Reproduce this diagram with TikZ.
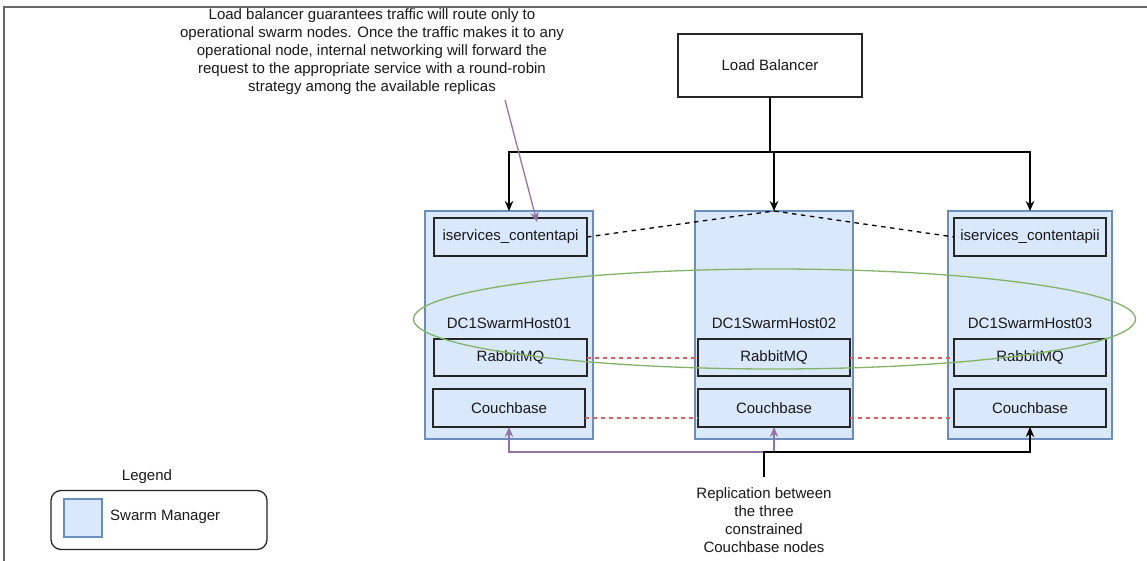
\documentclass[tikz,border=0pt]{standalone}
\usepackage{fontspec}
\setmainfont{Liberation Sans}
\usetikzlibrary{arrows.meta}
\definecolor{hostfill}{HTML}{DAE8FC}
\definecolor{hoststroke}{HTML}{6C8EBF}
\definecolor{pur}{HTML}{9673A6}
\definecolor{redd}{HTML}{D9605E}
\definecolor{grn}{HTML}{82B366}
\definecolor{framec}{HTML}{666666}
\definecolor{boxline}{HTML}{262626}
\begin{document}
\begin{tikzpicture}[x=1pt,y=-1pt,
  every node/.style={font=\fontsize{15}{18}\selectfont, text=black!90},
  hostbox/.style={draw=hoststroke, line width=1.2pt, fill=hostfill, inner sep=0pt, outer sep=0pt},
  svcbox/.style={draw=boxline, line width=1.4pt, fill=hostfill, inner sep=0pt, outer sep=0pt, minimum height=38},
  lbbox/.style={draw=boxline, line width=1.2pt, fill=white, inner sep=0pt, outer sep=0pt},
  arr/.style={-{Stealth[length=10pt,width=8.5pt]}},
  link/.style={line width=1.3pt, draw=black},
  plink/.style={line width=1.3pt, draw=pur},
  rdash/.style={draw=redd, line width=1.4pt, dash pattern=on 4pt off 4pt},
  kdash/.style={draw=black, line width=1.3pt, dash pattern=on 4.5pt off 4.5pt}]
\useasboundingbox (0,0) rectangle (1147,561);
% frame of the screenshot
\draw[framec, line width=1.3pt] (4,561) -- (4,7) -- (1147,7);

% hosts
\node[hostbox, minimum width=168, minimum height=228] (h1) at (509,325) {};
\node[hostbox, minimum width=158, minimum height=228] (h2) at (774,325) {};
\node[hostbox, minimum width=164, minimum height=228] (h3) at (1030,325) {};

\node (h1lab) at (509,323) {DC1SwarmHost01};
\node (h2lab) at (774,323) {DC1SwarmHost02};
\node (h3lab) at (1030,323) {DC1SwarmHost03};

% services
\node[svcbox, minimum width=153] (api1) at (510.5,237) {iservices\_contentapi};
\node[svcbox, minimum width=152] (api3) at (1030,237) {iservices\_contentapii};
\node[svcbox, minimum width=153, minimum height=37] (rmq1) at (510.5,357.5) {RabbitMQ};
\node[svcbox, minimum width=152, minimum height=37] (rmq2) at (774,357.5) {RabbitMQ};
\node[svcbox, minimum width=152, minimum height=37] (rmq3) at (1030,357.5) {RabbitMQ};
\node[svcbox, minimum width=152] (cb1) at (509,408) {Couchbase};
\node[svcbox, minimum width=152] (cb2) at (774,408) {Couchbase};
\node[svcbox, minimum width=152] (cb3) at (1030,408) {Couchbase};

% load balancer
\node[lbbox, minimum width=184, minimum height=63] (lb) at (770,65.5) {Load Balancer};
\coordinate (lbj) at (770,152);
\draw[link] (lb.south) -- (lbj);
\draw[link, arr] (lbj) -| (h1.north);
\draw[link, arr] (lbj) -| (h2.north);
\draw[link, arr] (lbj) -| (h3.north);

% dashed service links
\draw[kdash] (api1.east) -- (h2.north) -- (api3.west);
\draw[rdash] ([yshift=-0.5pt]rmq1.east) -- ([yshift=-0.5pt]rmq2.west);
\draw[rdash] ([yshift=-0.5pt]rmq2.east) -- ([yshift=-0.5pt]rmq3.west);
\draw[rdash] ([yshift=-10pt]cb1.east) -- ([yshift=-10pt]cb2.west);
\draw[rdash] ([yshift=-10pt]cb2.east) -- ([yshift=-10pt]cb3.west);

% swarm ring
\draw[grn, line width=1.3pt] (774.5,319) ellipse [x radius=361pt, y radius=50pt];

% annotation
\node[align=center] (note) at (372,52) {Load balancer guarantees traffic will route only to\\operational swarm nodes. Once the traffic makes it to any\\operational node, internal networking will forward the\\request to the appropriate service with a round-robin\\strategy among the available replicas};
\coordinate (notep) at (505,100);
\draw[plink, arr] (notep) -- ([xshift=26.5pt, yshift=-4pt]api1.north);

% replication
\coordinate (rep) at (764,477);
\coordinate (repj) at (764,452);
\draw[plink, arr] (repj) -| (cb1.south);
\draw[plink, arr] (repj) -| (cb2.south);
\draw[link, arr] (rep) -- (repj) -| (cb3.south);
\node[align=center] (reptxt) at (764,520) {Replication between\\the three\\constrained\\Couchbase nodes};

% legend
\node (legtitle) at (147,477) {Legend};
\node[draw=boxline, line width=1.3pt, rounded corners=10pt, minimum width=216, minimum height=59, inner sep=0pt] (legbox) at (159,520) {};
\node[hostbox, minimum width=38, minimum height=38] (legsw) at (83,518) {};
\node[anchor=west, inner sep=0pt] (legtxt) at (110,517) {Swarm Manager};
\end{tikzpicture}
\end{document}
